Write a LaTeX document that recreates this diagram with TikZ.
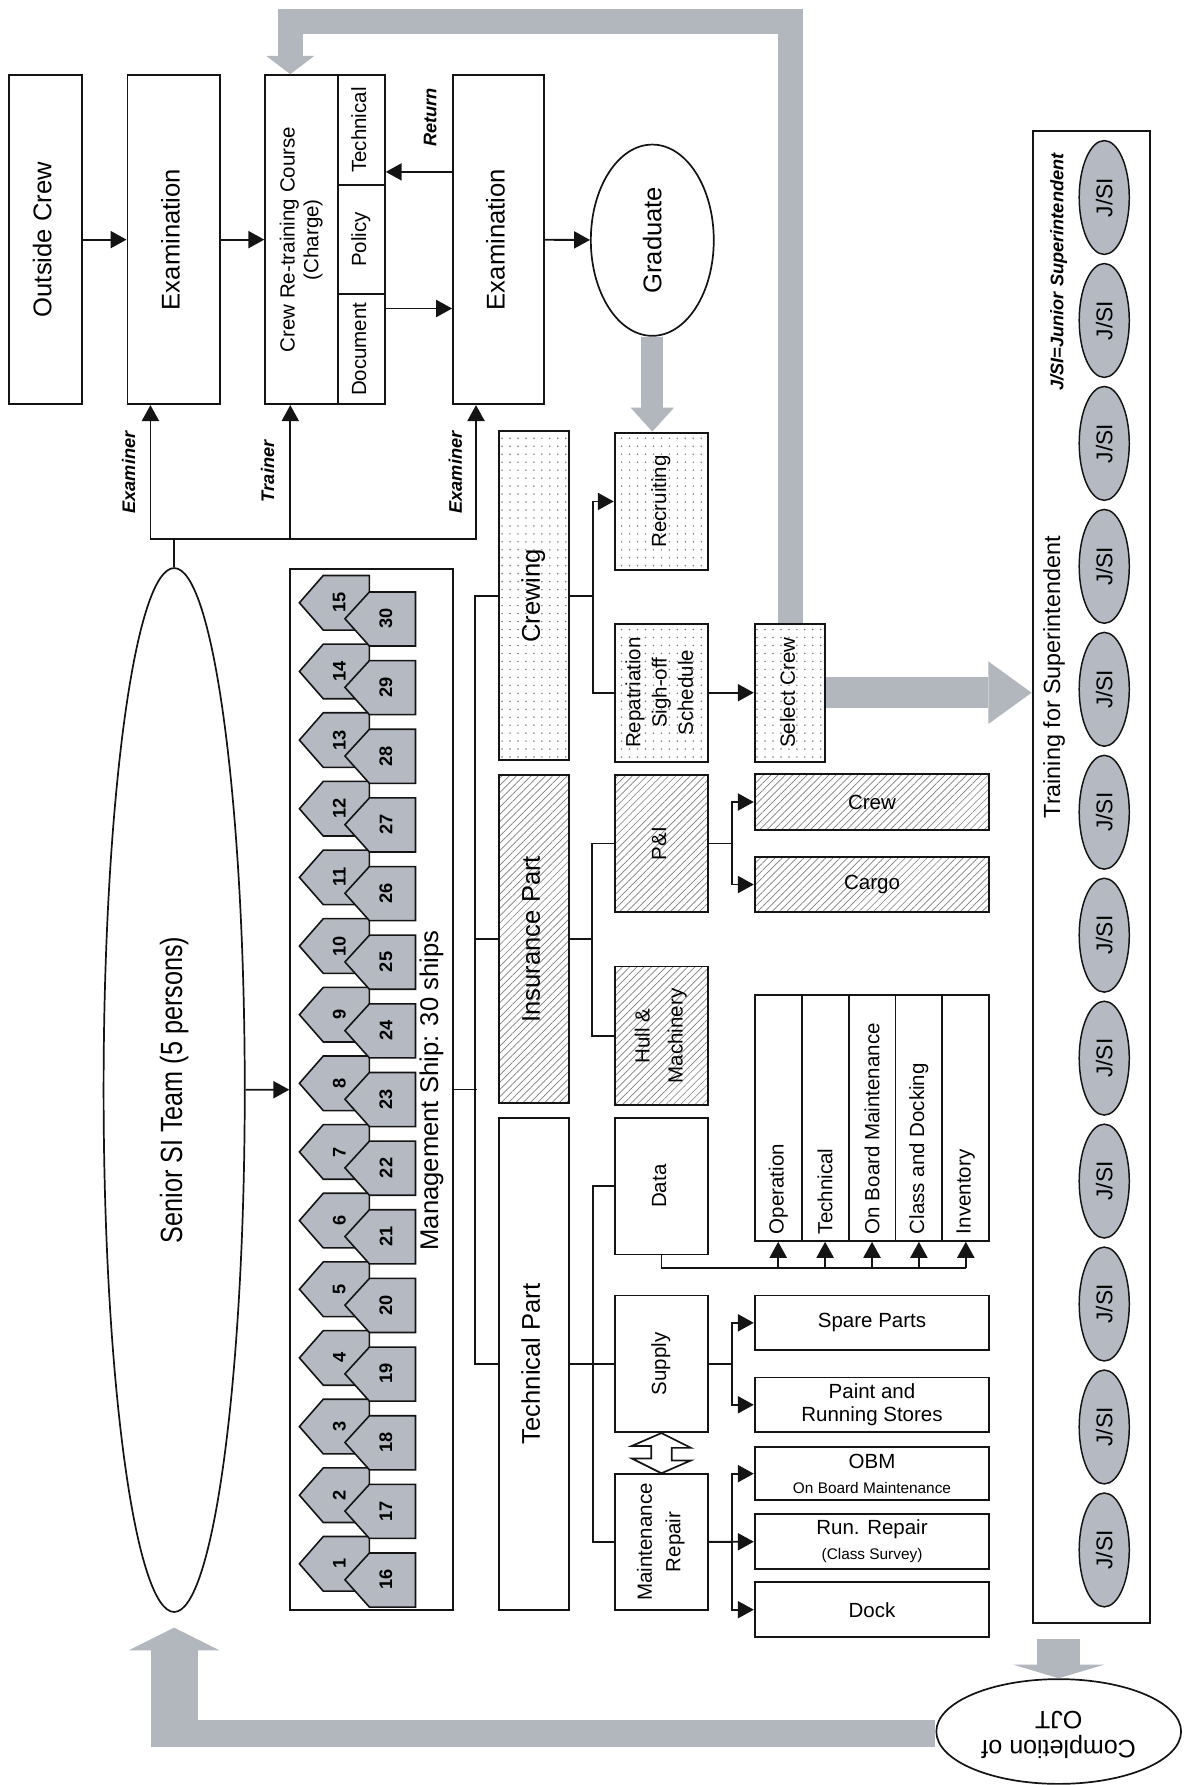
\documentclass[tikz,border=0pt]{standalone}
\usepackage{fontspec}
\setmainfont{Liberation Sans}
\newfontfamily\narrowsans[FakeStretch=0.82]{Liberation Sans}
\usepackage{graphicx}
\usetikzlibrary{arrows.meta,calc,shapes.geometric,patterns.meta}
\definecolor{ink}{HTML}{141414}
\definecolor{shipgray}{HTML}{B5B9C1}
\definecolor{bandgray}{HTML}{B2B6BD}
\definecolor{hatchgray}{HTML}{7E7E7E}
\definecolor{dotgray}{HTML}{7A7A7A}
\newcommand{\vtxt}[1]{\rotatebox{90}{\begin{tabular}{@{}c@{}}#1\end{tabular}}}
\newcommand{\vleft}[1]{\rotatebox{90}{\makebox[204pt][l]{#1}}}
\tikzset{
  box/.style={draw=ink,line width=1.7pt,inner sep=0pt,align=center},
  dotbox/.style={box,pattern={Dots[distance=7pt,radius=0.75pt]},pattern color=dotgray},
  hatchbox/.style={box,pattern={Lines[angle=45,distance=4.5pt,line width=0.6pt]},
                   pattern color=hatchgray},
  oval/.style={ellipse,draw=ink,line width=1.5pt,inner sep=0pt},
  jsi/.style={ellipse,draw=ink,fill=shipgray,line width=1.3pt,inner sep=0pt,
              minimum width=44pt,minimum height=100pt,font=\fontsize{20}{24}\selectfont},
  ship/.style={draw=ink,fill=shipgray,line width=1.4pt,line join=miter},
  num/.style={inner sep=0pt,font=\fontsize{16}{18}\selectfont\bfseries},
  bigtxt/.style={font=\fontsize{22.5}{26}\selectfont},
  midtxt/.style={font=\fontsize{18}{21}\selectfont},
  lbl/.style={inner sep=0pt,font=\fontsize{16}{18}\selectfont\bfseries\itshape},
  conn/.style={draw=ink,line width=1.6pt},
  arr/.style={conn,-{Triangle[length=14pt,width=15pt]}},
  band/.style={draw=bandgray,line width=#1}
}

\begin{document}
\begin{tikzpicture}[x=1pt,y=-1pt]
  \useasboundingbox (0,0) rectangle (1048,1568);

  % course line
  \node[box,bigtxt,minimum width=64pt,minimum height=289pt] (outside) at (40,210.5)
    {\vtxt{Outside Crew}};
  \node[box,bigtxt,minimum width=81pt,minimum height=289pt] (exam1) at (152.5,210.5)
    {\vtxt{Examination}};
  \node[box,midtxt,minimum width=64pt,minimum height=289pt] (course) at (265,210.5)
    {\vtxt{Crew Re-training Course\\(Charge)}};
  \node[box,midtxt,minimum width=41pt,minimum height=96.3pt] (tech) at (317.5,114.2)
    {\vtxt{Technical}};
  \node[box,midtxt,minimum width=41pt,minimum height=96.3pt] (policy) at (317.5,210.5)
    {\vtxt{Policy}};
  \node[box,midtxt,minimum width=41pt,minimum height=96.3pt] (doc) at (317.5,306.8)
    {\vtxt{Document}};
  \node[box,bigtxt,minimum width=80pt,minimum height=289pt] (exam2) at (438,210.5)
    {\vtxt{Examination}};
  \node[oval,bigtxt,minimum width=108pt,minimum height=168pt] (grad) at (573,211)
    {\rotatebox{90}{Graduate}};
  \draw[arr] (outside) -- (exam1);
  \draw[arr] (exam1) -- (course);
  \draw[arr] (exam2) -- (grad);
  \draw[arr] (exam2.west |- 0,151) -- (tech.east |- 0,151);
  \draw[arr] (doc.east |- 0,271) -- (exam2.west |- 0,271);
  \node[lbl] (retlbl) at (378,103) {\rotatebox{90}{Return}};

  % senior team
  \node[oval,minimum width=124pt,minimum height=917pt,
        font=\narrowsans\fontsize{27}{30}\selectfont] (senior) at (153,957.5)
    {\rotatebox{90}{Senior SI Team (5 persons)}};
  \coordinate (hub) at ([yshift=25pt]senior.north);
  \coordinate (e1) at ([xshift=21pt]exam1.south west);
  \coordinate (tr) at ([xshift=-10pt]course.south);
  \coordinate (e2) at ([xshift=21pt]exam2.south west);
  \draw[conn] (senior.north) -- (hub);
  \draw[conn,line cap=rect] (hub -| e1) -- (hub -| e2);
  \draw[arr] (hub -| e1) -- (e1);
  \draw[arr] (hub -| tr) -- (tr);
  \draw[arr] (hub -| e2) -- (e2);
  \node[lbl] (exlbl1) at (113,415) {\rotatebox{90}{Examiner}};
  \node[lbl] (trlbl) at (235,414) {\rotatebox{90}{Trainer}};
  \node[lbl] (exlbl2) at (400,415) {\rotatebox{90}{Examiner}};

  % managed ships
  \node[box,minimum width=143pt,minimum height=914pt] (mgmt) at (326.5,957) {};
  \foreach \i [evaluate=\i as \yy using 505.5+(15-\i)*60.3] in {1,...,15} {
    \draw[ship] (263,\yy+24) -- (284,\yy) -- (324.5,\yy) -- (324.5,\yy+48)
      -- (284,\yy+48) -- cycle;
    \node[num] (s\i) at (298,\yy+24) {\rotatebox{90}{\i}};
  }
  \foreach \i [evaluate=\i as \yy using 505.5+(15-\i)*60.3,
               evaluate=\i as \j using int(\i+15)] in {1,...,15} {
    \draw[ship] (303,\yy+38) -- (324.5,\yy+14.5) -- (365,\yy+14.5) -- (365,\yy+62)
      -- (324.5,\yy+62) -- cycle;
    \node[num] (s\j) at (339,\yy+38) {\rotatebox{90}{\j}};
  }
  \node[bigtxt] (mgmtlbl) at (379,958) {\rotatebox{90}{Management Ship: 30 ships}};
  \draw[arr] (senior) -- (mgmt);

  % departments
  \node[dotbox,bigtxt,minimum width=62pt,minimum height=289pt] (crewing) at (469,523.5)
    {\vtxt{Crewing}};
  \node[hatchbox,bigtxt,minimum width=62pt,minimum height=288pt] (insur) at (469,825)
    {\vtxt{Insurance Part}};
  \node[box,bigtxt,minimum width=62pt,minimum height=432pt] (techpart) at (469,1198)
    {\vtxt{Technical Part}};
  \draw[conn] (mgmt.east) -- ++(20,0);
  \draw[conn] (crewing.west) -- ++(-20,0) |- (techpart.west);
  \draw[conn] (insur.west) -- ++(-20,0);

  \node[dotbox,midtxt,minimum width=82pt,minimum height=121pt] (recruit) at (581,440.5)
    {\vtxt{Recruiting}};
  \node[dotbox,font=\fontsize{18}{23}\selectfont,minimum width=82pt,minimum height=121pt]
    (repat) at (581,608.5) {\vtxt{Repatriation\\Sigh-off\\Schedule}};
  \node[dotbox,midtxt,minimum width=62pt,minimum height=121pt] (selcrew) at (694,608.5)
    {\vtxt{Select Crew}};
  \node[hatchbox,midtxt,minimum width=82pt,minimum height=120pt] (pni) at (581,741)
    {\vtxt{P\&I}};
  \node[hatchbox,midtxt,minimum width=82pt,minimum height=122pt] (hm) at (581,910)
    {\vtxt{Hull \&\\[8pt]Machinery}};
  \node[box,midtxt,minimum width=82pt,minimum height=120pt] (data) at (581,1042)
    {\vtxt{Data}};
  \node[box,midtxt,minimum width=82pt,minimum height=120pt] (supply) at (581,1198)
    {\vtxt{Supply}};
  \node[box,midtxt,minimum width=82pt,minimum height=119pt] (mrep) at (581,1354.5)
    {\vtxt{Maintenance\\[4pt]Repair}};
  \draw[arr] (crewing.east) -- ++(20,0) |- (recruit);
  \draw[conn] (crewing.east) ++(20,0) |- (repat);
  \draw[arr] (repat) -- (selcrew);
  \draw[conn] (insur.east) -- ++(20,0) |- (pni);
  \draw[conn] (insur.east) ++(20,0) |- (hm);
  \draw[conn] (techpart.east) -- ++(20,0) |- (data);
  \draw[conn] (techpart) -- (supply);
  \draw[conn] (techpart.east) ++(20,0) |- (mrep);
  \coordinate (dt) at (supply.south);
  \coordinate (db) at (mrep.north);
  \draw[draw=ink,line width=1.5pt,fill=white] (dt) -- ++(26,13) -- ++(-17,0) -- ++(0,11)
    -- ++(17,0) -- (db) -- ++(-26,-13) -- ++(17,0) -- ++(0,-11) -- ++(-17,0) -- cycle;

  % tasks
  \node[hatchbox,midtxt,minimum width=206pt,minimum height=49pt] (crew) at (766,704.5) {Crew};
  \node[hatchbox,midtxt,minimum width=206pt,minimum height=48pt] (cargo) at (766,777) {Cargo};
  \draw[arr] (pni.east) -- ++(20.5,0) |- (crew);
  \draw[arr] (pni.east) ++(20.5,0) |- (cargo);
  \foreach \t/\n [count=\k] in {Operation/c1,Technical/c2,On Board Maintenance/c3,
                                Class and Docking/c4,Inventory/c5}
    \node[box,midtxt,minimum width=41.2pt,minimum height=216pt] (\n)
      at ({663+41.2*(\k-0.5)},982) {\vleft{\t}};
  \coordinate (bus) at ([yshift=-11pt]data.south);
  \draw[conn] (data.south) -- (bus) -- (bus -| c5);
  \foreach \n in {c1,c2,c3,c4,c5}
    \draw[arr] (bus -| \n) -- (\n);
  \node[box,midtxt,minimum width=206pt,minimum height=48pt] (spare) at (766,1162)
    {Spare Parts};
  \node[box,font=\fontsize{18}{20}\selectfont,minimum width=206pt,minimum height=48pt]
    (paint) at (766,1234) {Paint and\\Running Stores};
  \node[box,midtxt,minimum width=206pt,minimum height=47pt] (obm) at (766,1294.5)
    {OBM\\[1pt]{\fontsize{13.5}{15}\selectfont On Board Maintenance}};
  \node[box,midtxt,minimum width=206pt,minimum height=48pt] (runrep) at (766,1354)
    {Run. Repair\\[1pt]{\fontsize{13.5}{15}\selectfont (Class Survey)}};
  \node[box,midtxt,minimum width=206pt,minimum height=48pt] (dock) at (766,1414) {Dock};
  \draw[arr] (supply.east) -- ++(20.5,0) |- (spare);
  \draw[arr] (supply.east) ++(20.5,0) |- (paint);
  \draw[arr] (mrep.east) -- ++(20.5,0) |- (obm);
  \draw[arr] (mrep) -- (runrep);
  \draw[arr] (mrep.east) ++(20.5,0) |- (dock);

  % superintendent training
  \node[box,minimum width=103pt,minimum height=1311pt] (train) at (958.5,770.5) {};
  \node[lbl] (jsilbl) at (930,239) {\rotatebox{90}{J/SI=Junior Superintendent}};
  \node[inner sep=0pt,font=\fontsize{20.5}{24}\selectfont] (trainlbl) at (926,595)
    {\rotatebox{90}{Training for Superintendent}};
  \foreach \k in {0,...,11}
    \node[jsi] (j\k) at (970,{173.5+108*\k}) {\rotatebox{90}{J/SI}};
  \node[oval,font=\fontsize{22}{25}\selectfont,minimum width=215pt,minimum height=92pt]
    (compl) at (930,1521)
    {\rotatebox{180}{\begin{tabular}{@{}c@{}}Completion of\\OJT\end{tabular}}};

  % grey flow arrows
  \draw[band=22pt,-{Triangle[length=16pt,width=42pt,line width=0pt]}]
    (selcrew.north) -- (selcrew.north |- 0,19) -| (tr |- course.north);
  \draw[band=19pt,-{Triangle[length=21pt,width=38pt,line width=0pt]}]
    (grad.south) -- (grad.south |- recruit.north);
  \draw[band=27pt,-{Triangle[length=38pt,width=55pt,line width=0pt]}]
    (selcrew.east) -- (selcrew.east -| train.west);
  \coordinate (tc) at (train.south -| compl.north);
  \draw[band=38pt,-{Triangle[length=12pt,width=80pt,line width=0pt]}]
    ([yshift=-13pt]tc) -- (compl.north);
  \coordinate (sb) at ([yshift=-13pt]senior.south);
  \coordinate (corner) at ([yshift=-2pt]compl.west -| sb);
  \draw[band=24pt] ([yshift=-2pt]compl.west) -- ([xshift=-20.5pt]corner);
  \draw[band=41pt,-{Triangle[length=20pt,width=80pt,line width=0pt]}]
    ([yshift=-12pt]corner) -- (sb);
\end{tikzpicture}
\end{document}
